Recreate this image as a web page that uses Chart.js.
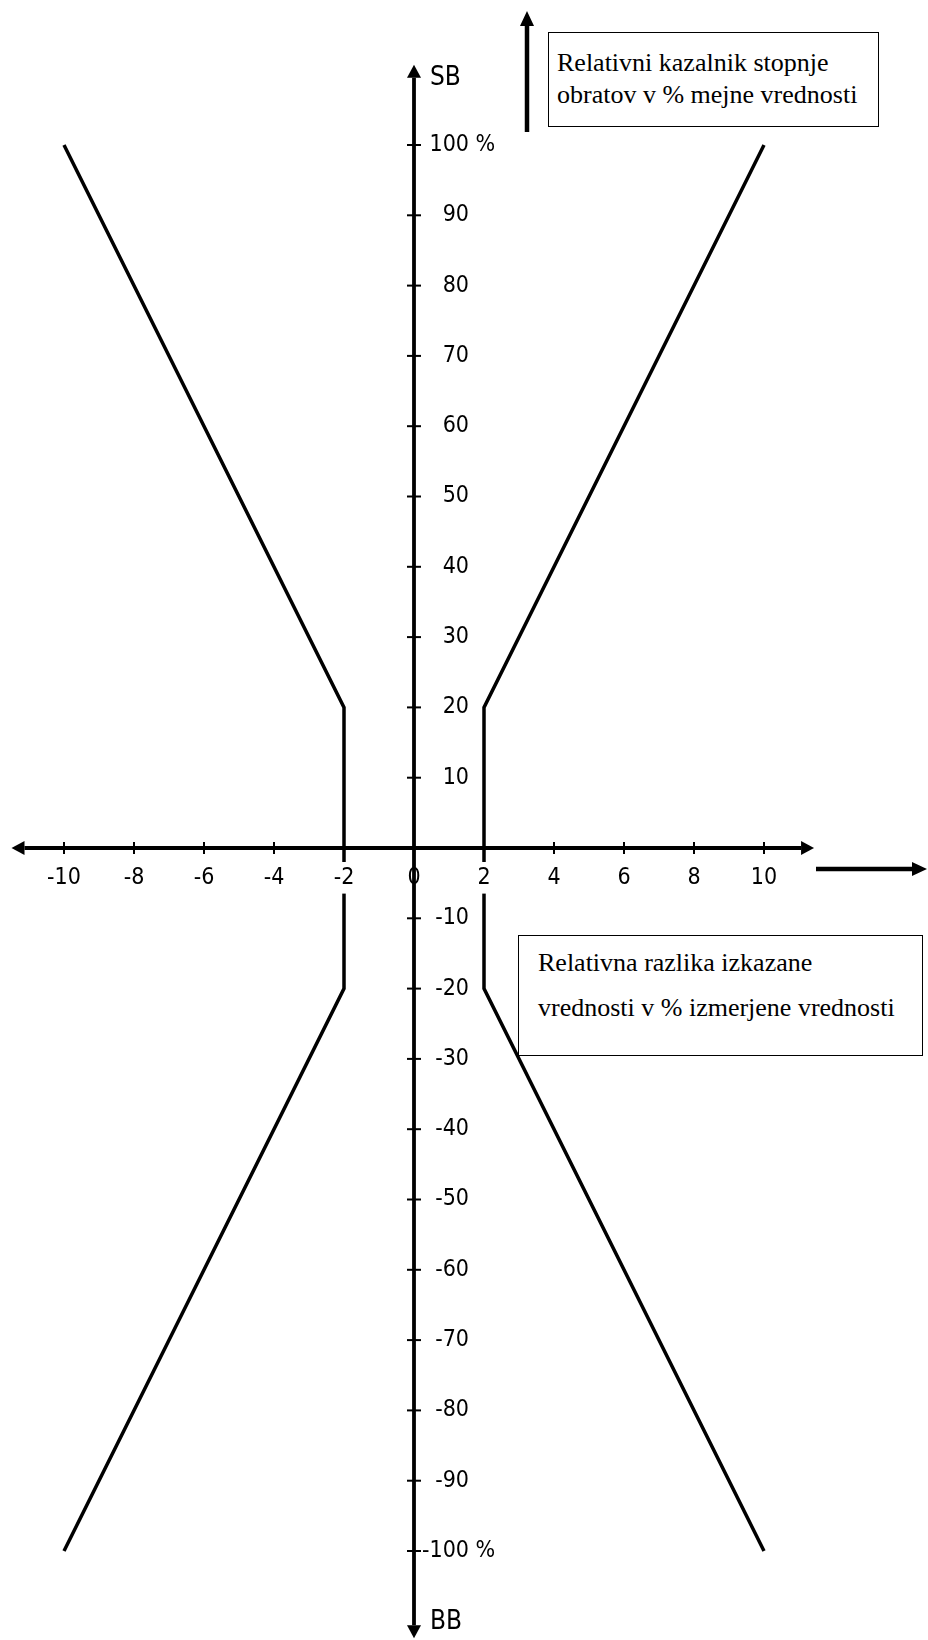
<!DOCTYPE html>
<html lang="sl">
<head>
<meta charset="UTF-8">
<title>Relativni kazalnik stopnje obratov</title>
<script src="https://cdn.jsdelivr.net/npm/chart.js@4"></script>
<style>
  body { margin: 0; background: #fff; }
  .wrap { position: relative; width: 928px; height: 1640px; overflow: hidden; }
  canvas { position: absolute; left: 0; top: 0; }
  .box {
    position: absolute;
    box-sizing: border-box;
    border: 1px solid #000;
    background: #fff;
    color: #000;
    font-family: 'Liberation Serif', 'Times New Roman', serif;
    font-size: 26px;
    white-space: nowrap;
  }
  #boxY { left: 548px; top: 32px; width: 331px; height: 95px; padding: 14px 0 0 8px; line-height: 32px; }
  #boxX { left: 518px; top: 935px; width: 405px; height: 121px; padding: 4px 0 0 19px; line-height: 45px; }
</style>
</head>
<body>
<div class="wrap">
  <canvas id="chart" width="928" height="1640"></canvas>
  <div class="box" id="boxY">Relativni kazalnik stopnje<br>obratov v % mejne vrednosti</div>
  <div class="box" id="boxX">Relativna razlika izkazane<br>vrednosti v % izmerjene vrednosti</div>
</div>
<script>
  // tick values and labels
  const xTicks = [-10, -8, -6, -4, -2, 0, 2, 4, 6, 8, 10];
  const yTicks = [100, 90, 80, 70, 60, 50, 40, 30, 20, 10, -10, -20, -30, -40, -50, -60, -70, -80, -90, -100];
  const yTickLabels = ['100 %', '90', '80', '70', '60', '50', '40', '30', '20', '10',
                       '-10', '-20', '-30', '-40', '-50', '-60', '-70', '-80', '-90', '-100 %'];

  // tolerance boundaries
  const rightX = [10, 2, 2, 10];
  const rightY = [100, 20, -20, -100];
  const leftX = [-10, -2, -2, -10];
  const leftY = [100, 20, -20, -100];

  // how far the arrowed axes reach
  const xAxisEnds = [-11.5, 11.43];
  const yAxisEnds = [-112.4, 111.4];

  function fontAvailable(name) {
    const c = document.createElement('canvas').getContext('2d');
    const probe = 'mmmmmmwwwwlllii0123456789';
    let diff = false;
    ['monospace', 'serif'].forEach(fb => {
      c.font = '40px ' + fb;
      const a = c.measureText(probe).width;
      c.font = '40px "' + name + '", ' + fb;
      if (c.measureText(probe).width !== a) diff = true;
    });
    return diff;
  }

  let labelFamily = "'Liberation Sans', Arial, sans-serif";
  let labelSize = 22;
  if (fontAvailable('Liberation Sans Narrow')) {
    labelFamily = "'Liberation Sans Narrow', 'Liberation Sans', sans-serif";
    labelSize = 25;
  } else if (fontAvailable('DejaVu Sans Condensed')) {
    labelFamily = "'DejaVu Sans Condensed', sans-serif";
    labelSize = 23;
  }
  const labelFont = labelSize + 'px ' + labelFamily;
  const nameFont = (labelSize + 3) + 'px ' + labelFamily;

  function arrow(ctx, x1, y1, x2, y2, w, len, half) {
    const d = Math.hypot(x2 - x1, y2 - y1);
    const ux = (x2 - x1) / d, uy = (y2 - y1) / d;
    ctx.lineWidth = w;
    ctx.beginPath();
    ctx.moveTo(x1, y1);
    ctx.lineTo(x2 - ux * len, y2 - uy * len);
    ctx.stroke();
    ctx.beginPath();
    ctx.moveTo(x2, y2);
    ctx.lineTo(x2 - ux * len - uy * half, y2 - uy * len + ux * half);
    ctx.lineTo(x2 - ux * len + uy * half, y2 - uy * len - ux * half);
    ctx.closePath();
    ctx.fill();
  }

  const crossAxes = {
    id: 'crossAxes',
    afterDraw(chart) {
      const {ctx, scales: {x, y}} = chart;
      const x0 = x.getPixelForValue(0);
      const y0 = y.getPixelForValue(0);
      ctx.save();
      ctx.strokeStyle = '#000';
      ctx.fillStyle = '#000';

      // axes with arrow heads
      arrow(ctx, x0, y0, x.getPixelForValue(xAxisEnds[0]), y0, 3.8, 13, 7);
      arrow(ctx, x0, y0, x.getPixelForValue(xAxisEnds[1]), y0, 3.8, 13, 7);
      arrow(ctx, x0, y0, x0, y.getPixelForValue(yAxisEnds[1]), 3.8, 13, 7);
      arrow(ctx, x0, y0, x0, y.getPixelForValue(yAxisEnds[0]), 3.8, 13, 7);

      // tick marks
      ctx.lineWidth = 2;
      xTicks.forEach(v => {
        if (v === 0) return;
        const px = x.getPixelForValue(v);
        ctx.beginPath(); ctx.moveTo(px, y0 - 6); ctx.lineTo(px, y0 + 6); ctx.stroke();
      });
      yTicks.forEach(v => {
        const py = y.getPixelForValue(v);
        ctx.beginPath(); ctx.moveTo(x0 - 7, py); ctx.lineTo(x0 + 7, py); ctx.stroke();
      });

      // y tick labels: number right aligned, unit after it
      ctx.font = labelFont;
      ctx.textBaseline = 'middle';
      yTicks.forEach((v, i) => {
        const py = y.getPixelForValue(v);
        const [num, unit] = yTickLabels[i].split(' ');
        ctx.textAlign = 'right';
        ctx.fillText(num, x0 + 55, py);
        if (unit) {
          ctx.textAlign = 'left';
          ctx.fillText(' ' + unit, x0 + 55, py);
        }
      });

      // axis names
      ctx.font = nameFont;
      ctx.textAlign = 'left';
      ctx.fillText('SB', x0 + 16, 78);
      ctx.fillText('BB', x0 + 16, 1622);

      // pointer arrows next to the captions
      arrow(ctx, 527, 132, 527, 11, 4.5, 15, 7);
      arrow(ctx, 816, 869, 927, 869, 4.5, 15, 7);
      ctx.restore();
    }
  };

  const lineStyle = {
    showLine: true,
    borderColor: '#000',
    borderWidth: 3.5,
    pointRadius: 0,
    fill: false,
    tension: 0
  };

  new Chart(document.getElementById('chart'), {
    type: 'scatter',
    data: {
      datasets: [
        Object.assign({ label: 'right', data: rightX.map((v, i) => ({ x: v, y: rightY[i] })) }, lineStyle),
        Object.assign({ label: 'left', data: leftX.map((v, i) => ({ x: v, y: leftY[i] })) }, lineStyle)
      ]
    },
    options: {
      responsive: false,
      animation: false,
      layout: { padding: 0 },
      plugins: { legend: { display: false }, tooltip: { enabled: false } },
      scales: {
        x: {
          type: 'linear',
          min: -414 / 35,
          max: 514 / 35,
          position: { y: 0 },
          grid: { display: false },
          border: { display: false },
          afterBuildTicks: s => { s.ticks = xTicks.map(v => ({ value: v })); },
          ticks: {
            z: 1,
            color: '#000',
            font: { family: labelFamily, size: labelSize },
            padding: 8,
            maxRotation: 0,
            autoSkip: false,
            showLabelBackdrop: true,
            backdropColor: c => (c.tick && c.tick.value === 0) ? 'rgba(0,0,0,0)' : '#fff',
            backdropPadding: 2,
            callback: v => String(v)
          }
        },
        y: {
          type: 'linear',
          display: false,
          min: -(1640 - 848) / 7.03,
          max: 848 / 7.03
        }
      }
    },
    plugins: [crossAxes]
  });
</script>
</body>
</html>
